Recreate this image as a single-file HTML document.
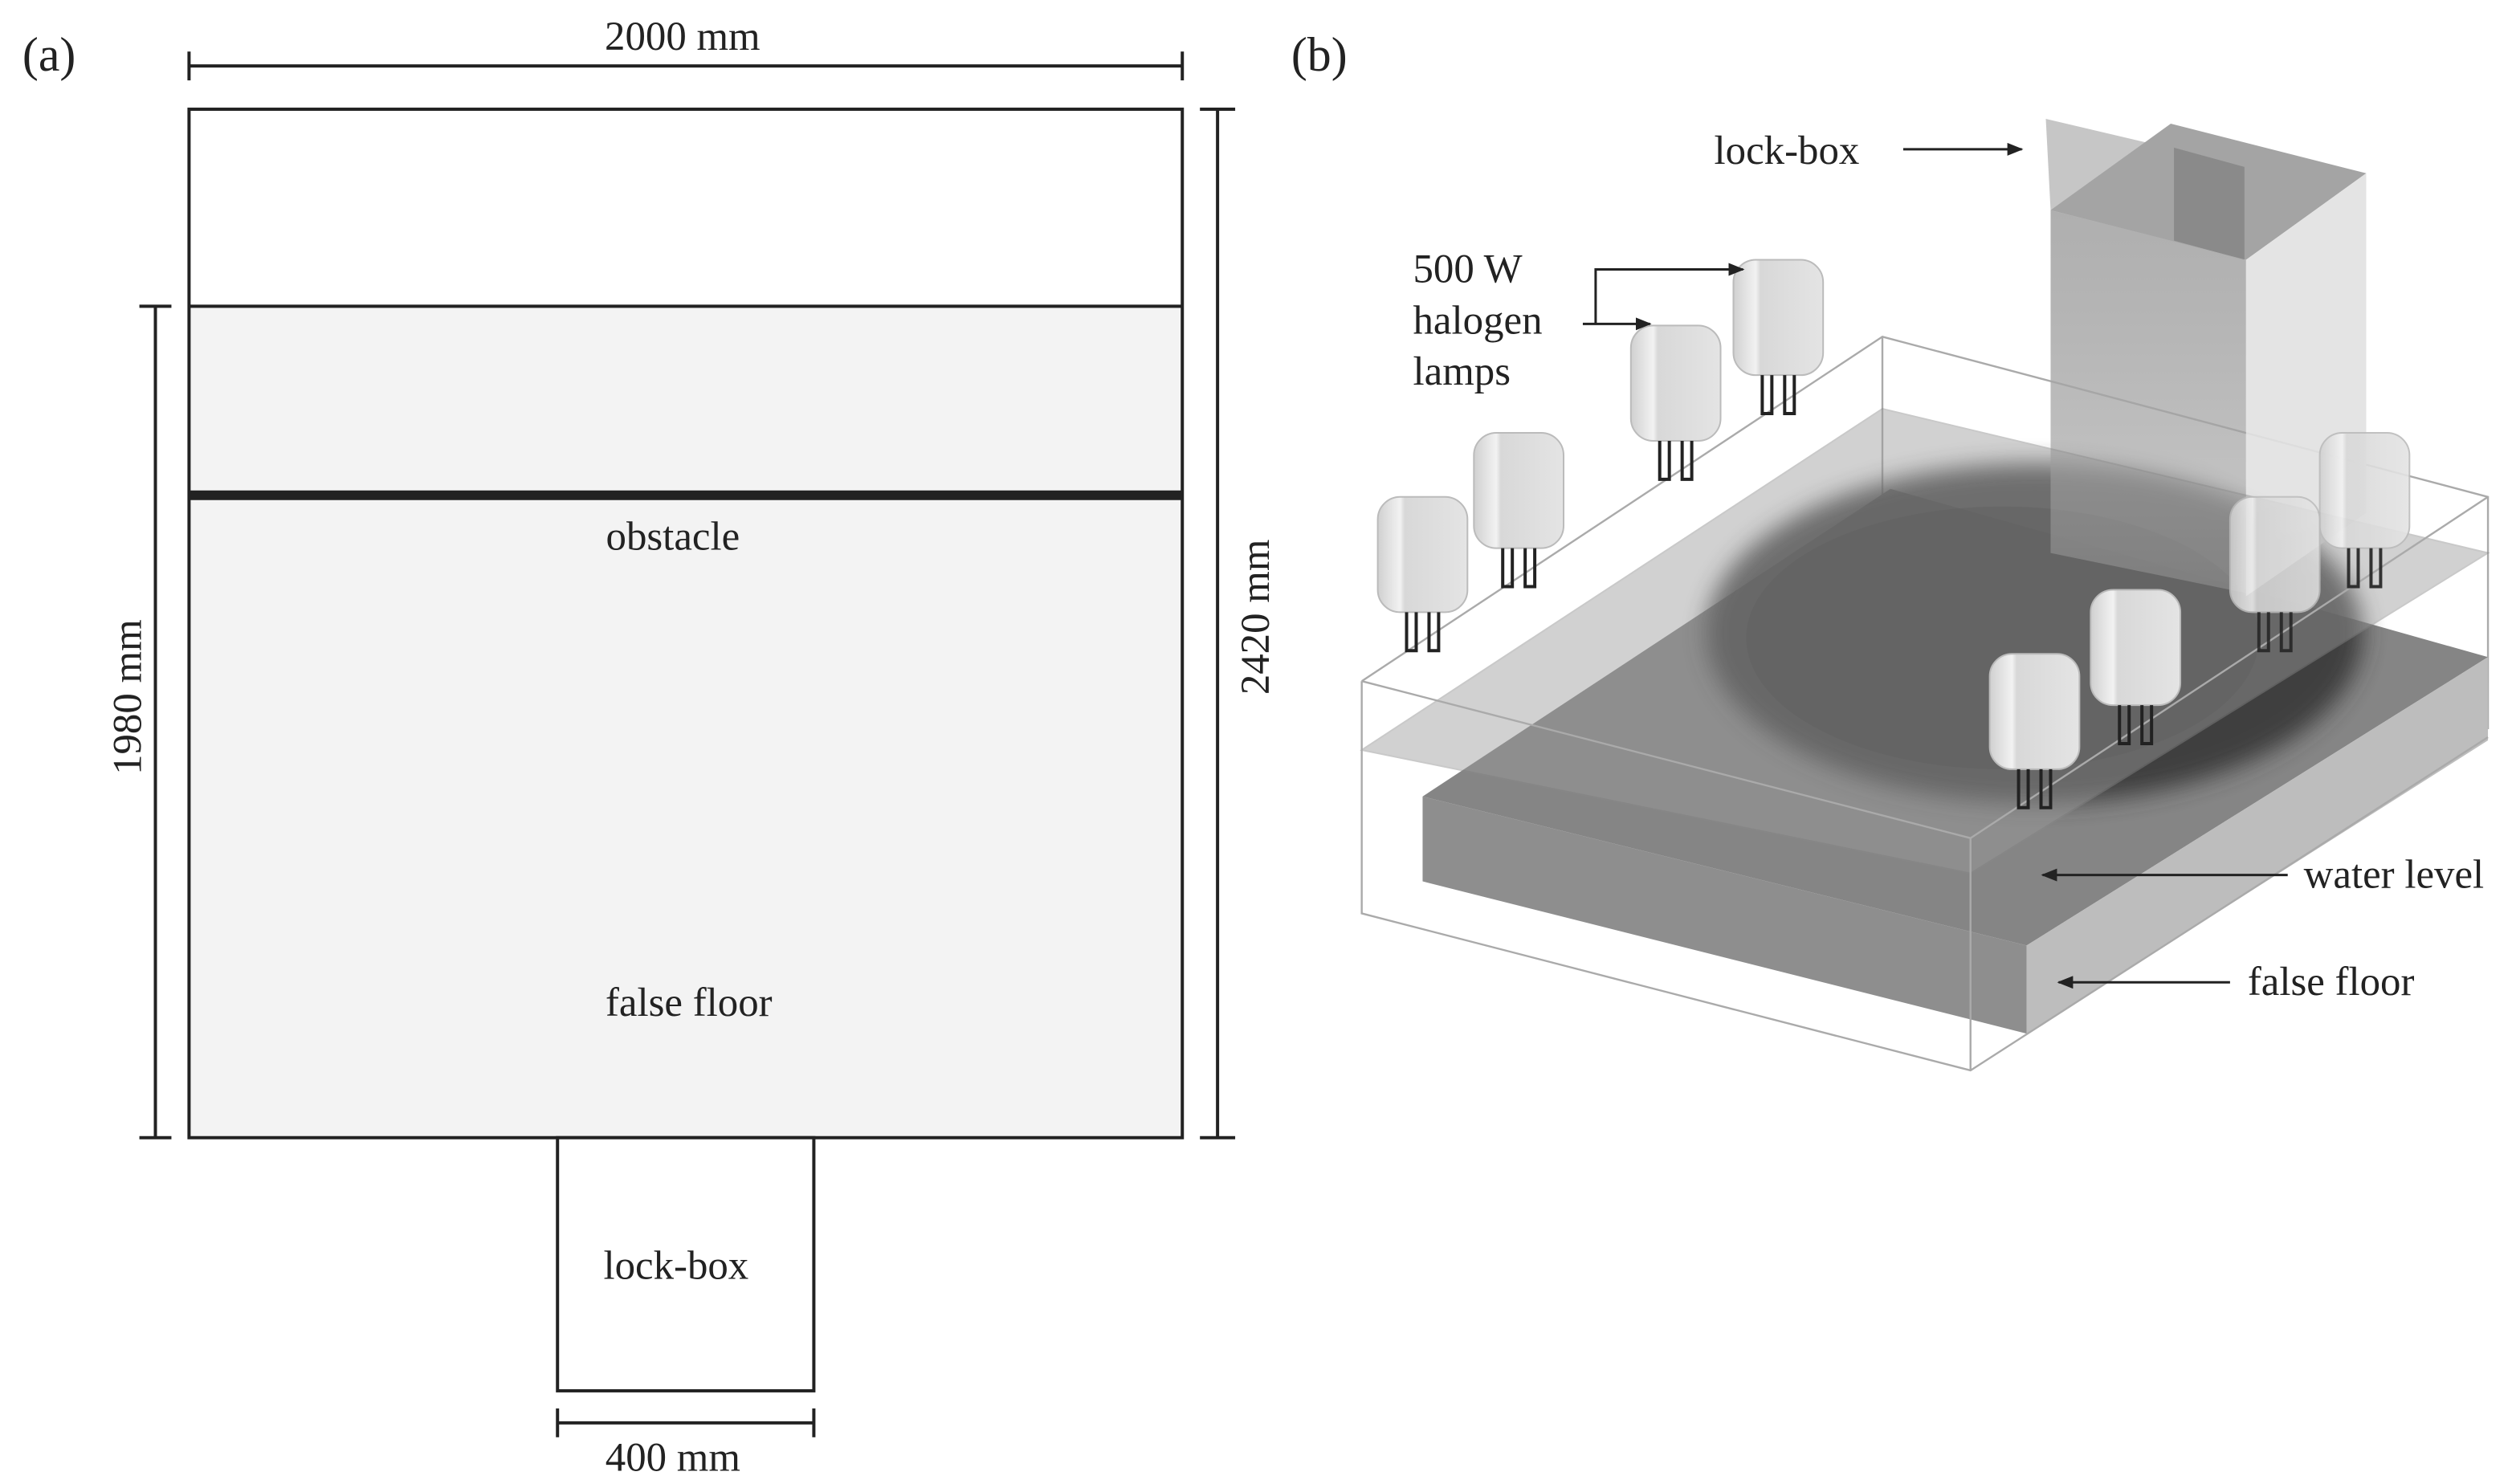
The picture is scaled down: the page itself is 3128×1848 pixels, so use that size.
<!DOCTYPE html>
<html><head><meta charset="utf-8"><style>html,body{margin:0;padding:0;background:#fff}svg{display:block}</style></head>
<body>
<svg width="3128" height="1848" viewBox="0 0 1568 926" xmlns="http://www.w3.org/2000/svg" font-family="Liberation Serif, serif" font-size="25.5" fill="#222">
<defs>
<marker id="ah" markerWidth="10" markerHeight="8" refX="9" refY="4" orient="auto" markerUnits="userSpaceOnUse"><path d="M0,0 L10,4 L0,8 z" fill="#222"/></marker>
<linearGradient id="lamp" x1="0" x2="1"><stop offset="0" stop-color="#d0d0d0"/><stop offset="0.25" stop-color="#f2f2f2"/><stop offset="0.3" stop-color="#d8d8d8"/><stop offset="1" stop-color="#e4e4e4"/></linearGradient>
<linearGradient id="lbf" x1="0" y1="0" x2="0" y2="1"><stop offset="0" stop-color="#afafaf"/><stop offset="1" stop-color="#999" stop-opacity="0.5"/></linearGradient>
<filter id="blur"><feGaussianBlur stdDeviation="7"/></filter>
</defs>
<!-- (a) -->
<text x="14" y="44" font-size="30">(a)</text>
<rect x="118" y="191" width="620" height="519" fill="#f3f3f3"/>
<rect x="118" y="68" width="620" height="642" fill="none" stroke="#222" stroke-width="2"/>
<line x1="118" y1="191" x2="738" y2="191" stroke="#222" stroke-width="2"/>
<line x1="118" y1="309" x2="738" y2="309" stroke="#222" stroke-width="6"/>
<text x="420" y="343" text-anchor="middle">obstacle</text>
<text x="430" y="634" text-anchor="middle">false floor</text>
<rect x="348" y="710" width="160" height="158" fill="#fff" stroke="#222" stroke-width="2"/>
<text x="422" y="798" text-anchor="middle">lock-box</text>
<g stroke="#222" stroke-width="2">
<line x1="118" y1="41" x2="738" y2="41"/><line x1="118" y1="32" x2="118" y2="50"/><line x1="738" y1="32" x2="738" y2="50"/>
<line x1="760" y1="68" x2="760" y2="710"/><line x1="749" y1="68" x2="771" y2="68"/><line x1="749" y1="710" x2="771" y2="710"/>
<line x1="97" y1="191" x2="97" y2="710"/><line x1="87" y1="191" x2="107" y2="191"/><line x1="87" y1="710" x2="107" y2="710"/>
<line x1="348" y1="888" x2="508" y2="888"/><line x1="348" y1="879" x2="348" y2="897"/><line x1="508" y1="879" x2="508" y2="897"/>
</g>
<text x="426" y="31" text-anchor="middle">2000 mm</text>
<text x="420" y="918" text-anchor="middle">400 mm</text>
<text transform="translate(792,385) rotate(-90)" text-anchor="middle">2420 mm</text>
<text transform="translate(88,435) rotate(-90)" text-anchor="middle">1980 mm</text>
<!-- (b) -->
<text x="806" y="44" font-size="30">(b)</text>
<g fill="none" stroke="#aaa" stroke-width="1.2">
<polyline points="850,425 1175,210 1553,310 1553,455"/>
<line x1="1175" y1="210" x2="1175" y2="355"/>
</g>
<!-- false floor -->
<polygon points="888,497 1180,305 1553,410 1265,590" fill="#858585"/>
<polygon points="888,497 1265,590 1265,645 888,550" fill="#8e8e8e"/>
<polygon points="1265,590 1553,410 1553,462 1265,645" fill="#bdbdbd"/>
<!-- blob -->
<ellipse cx="1270" cy="395" rx="205" ry="106" fill="#383838" opacity="0.9" filter="url(#blur)"/>
<ellipse cx="1250" cy="398" rx="160" ry="82" fill="#333" opacity="0.6"/>
<!-- lock-box -->
<polygon points="1277,74 1400,103 1400,162 1280,131" fill="#c6c6c6"/>
<polygon points="1280,131 1355,77 1477,108 1402,162" fill="#a4a4a4"/>
<polygon points="1357,92 1401,104 1401,162 1357,150" fill="#8a8a8a"/>
<polygon points="1280,131 1402,162 1402,370 1280,345" fill="url(#lbf)"/>
<polygon points="1402,162 1477,108 1477,320 1402,372" fill="#e2e2e2" opacity="0.92"/>
<!-- water plane -->
<polygon points="850,468 1175,255 1553,345 1230,545" fill="#9a9a9a" opacity="0.45" stroke="#888" stroke-width="1"/>
<g fill="none" stroke="#aaa" stroke-width="1.2">
<polyline points="850,425 850,570 1230,668 1553,460"/>
<polyline points="850,425 1230,523 1553,310"/>
<line x1="1230" y1="523" x2="1230" y2="668"/>
</g>
<!-- lamps -->
<g>
<g transform="translate(860,310)"><rect x="0" y="0" width="56" height="72" rx="14" fill="url(#lamp)" stroke="#bbb"/><path d="M18,72 v24 h6 v-24 M32,72 v24 h6 v-24" fill="none" stroke="#222" stroke-width="2"/></g>
<g transform="translate(920,270)"><rect x="0" y="0" width="56" height="72" rx="14" fill="url(#lamp)" stroke="#bbb"/><path d="M18,72 v24 h6 v-24 M32,72 v24 h6 v-24" fill="none" stroke="#222" stroke-width="2"/></g>
<g transform="translate(1018,203)"><rect x="0" y="0" width="56" height="72" rx="14" fill="url(#lamp)" stroke="#bbb"/><path d="M18,72 v24 h6 v-24 M32,72 v24 h6 v-24" fill="none" stroke="#222" stroke-width="2"/></g>
<g transform="translate(1082,162)"><rect x="0" y="0" width="56" height="72" rx="14" fill="url(#lamp)" stroke="#bbb"/><path d="M18,72 v24 h6 v-24 M32,72 v24 h6 v-24" fill="none" stroke="#222" stroke-width="2"/></g>
<g transform="translate(1448,270)" opacity="0.9"><rect x="0" y="0" width="56" height="72" rx="14" fill="url(#lamp)" stroke="#bbb"/><path d="M18,72 v24 h6 v-24 M32,72 v24 h6 v-24" fill="none" stroke="#222" stroke-width="2"/></g>
<g transform="translate(1392,310)" opacity="0.85"><rect x="0" y="0" width="56" height="72" rx="14" fill="url(#lamp)" stroke="#bbb"/><path d="M18,72 v24 h6 v-24 M32,72 v24 h6 v-24" fill="none" stroke="#222" stroke-width="2"/></g>
<g transform="translate(1305,368)"><rect x="0" y="0" width="56" height="72" rx="14" fill="url(#lamp)" stroke="#bbb"/><path d="M18,72 v24 h6 v-24 M32,72 v24 h6 v-24" fill="none" stroke="#222" stroke-width="2"/></g>
<g transform="translate(1242,408)"><rect x="0" y="0" width="56" height="72" rx="14" fill="url(#lamp)" stroke="#bbb"/><path d="M18,72 v24 h6 v-24 M32,72 v24 h6 v-24" fill="none" stroke="#222" stroke-width="2"/></g>
</g>
<!-- labels -->
<text x="1070" y="102">lock-box</text>
<line x1="1188" y1="93" x2="1262" y2="93" stroke="#222" stroke-width="1.5" marker-end="url(#ah)"/>
<text x="882" y="176">500 W</text>
<text x="882" y="208">halogen</text>
<text x="882" y="240">lamps</text>
<polyline points="988,202 1030,202" fill="none" stroke="#222" stroke-width="1.5" marker-end="url(#ah)"/>
<polyline points="996,202 996,168 1088,168" fill="none" stroke="#222" stroke-width="1.5" marker-end="url(#ah)"/>
<text x="1438" y="554">water level</text>
<line x1="1428" y1="546" x2="1275" y2="546" stroke="#222" stroke-width="1.5" marker-end="url(#ah)"/>
<text x="1403" y="621">false floor</text>
<line x1="1392" y1="613" x2="1285" y2="613" stroke="#222" stroke-width="1.5" marker-end="url(#ah)"/>
</svg>
</body></html>
